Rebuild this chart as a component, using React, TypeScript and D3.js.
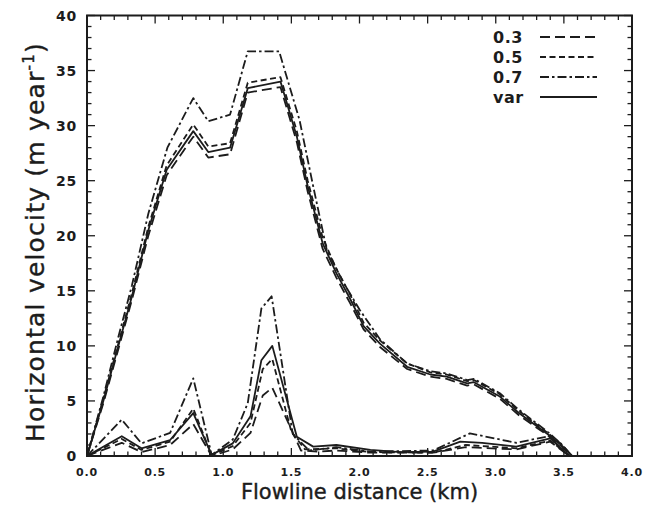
import React from "react";
import * as d3 from "d3";

// ---- data ----
const xDomain = [0, 4];
const yDomain = [0, 40];
const xTickLabels = ["0.0", "0.5", "1.0", "1.5", "2.0", "2.5", "3.0", "3.5", "4.0"];
const yTickLabels = ["0", "5", "10", "15", "20", "25", "30", "35", "40"];
const seriesNames = ["0.3", "0.5", "0.7", "var"];

// upper (surface) curves
const upperDist = [0, 0.12, 0.23, 0.33, 0.45, 0.585, 0.78, 0.89, 1.05, 1.18, 1.42, 1.54, 1.62, 1.73, 1.83, 1.93, 2.03, 2.15, 2.35, 2.52, 2.64, 2.79, 2.84, 3.03, 3.17, 3.39, 3.48, 3.56];
const upper03 = [0, 4.8, 9.7, 14.2, 20, 25.5, 29.0, 27.1, 27.4, 33.0, 33.5, 28.5, 24, 18.8, 16.2, 13.9, 11.5, 9.9, 7.9, 7.2, 7.0, 6.4, 6.5, 5.2, 3.7, 1.8, 0.9, 0];
const upper05 = [0, 5.2, 10.2, 14.8, 20.8, 26.4, 30.1, 28.1, 28.4, 33.9, 34.4, 29.5, 25, 19.8, 17, 14.7, 12.1, 10.5, 8.4, 7.6, 7.4, 6.8, 6.9, 5.6, 4.1, 2.0, 1.1, 0];
const upperVar = [0, 5, 10, 14.5, 20.5, 26, 29.5, 27.6, 28.0, 33.4, 34.0, 29.0, 24.5, 19.3, 16.6, 14.3, 11.8, 10.2, 8.1, 7.4, 7.2, 6.6, 6.7, 5.4, 3.9, 1.9, 1.0, 0];
const upper07Dist = [0, 0.12, 0.23, 0.33, 0.45, 0.59, 0.78, 0.89, 1.05, 1.18, 1.41, 1.56, 1.66, 1.76, 1.88, 2.0, 2.15, 2.35, 2.52, 2.64, 2.79, 2.84, 3.03, 3.17, 3.39, 3.48, 3.56];
const upper07 = [0, 5.4, 10.8, 15.5, 22, 28, 32.5, 30.4, 31.0, 36.75, 36.75, 30.5, 24.5, 18.7, 15.8, 13.3, 10.6, 8.4, 7.7, 7.5, 6.9, 7.0, 5.7, 4.2, 2.1, 1.1, 0];

// lower (basal) curves
const lowerVarDist = [0, 0.255, 0.40, 0.61, 0.78, 0.915, 1.07, 1.2, 1.28, 1.36, 1.54, 1.66, 1.83, 2.08, 2.3, 2.54, 2.74, 2.9, 3.15, 3.4, 3.54];
const lowerVar = [0, 1.8, 0.7, 1.45, 3.9, 0.1, 1.15, 3.6, 8.7, 10.0, 1.75, 0.85, 1.0, 0.55, 0.35, 0.4, 1.3, 1.2, 0.85, 1.6, 0];
const lower07Dist = [0, 0.255, 0.40, 0.61, 0.78, 0.915, 1.07, 1.18, 1.28, 1.355, 1.51, 1.63, 1.83, 2.08, 2.54, 2.81, 3.15, 3.39, 3.54];
const lower07 = [0, 3.3, 1.15, 2.1, 7.05, 0.1, 1.5, 4.8, 13.4, 14.5, 2.0, 0.5, 0.8, 0.4, 0.5, 2.05, 1.2, 1.8, 0];
const lower05Dist = [0, 0.255, 0.40, 0.61, 0.78, 0.915, 1.07, 1.2, 1.29, 1.36, 1.5, 1.6, 1.83, 2.08, 2.54, 2.78, 3.15, 3.4, 3.54];
const lower05 = [0, 1.55, 0.55, 1.3, 4.3, 0.05, 0.9, 3.0, 7.9, 8.8, 2.2, 0.6, 0.7, 0.35, 0.3, 1.0, 0.7, 1.4, 0];
const lower03Dist = [0, 0.255, 0.40, 0.61, 0.78, 0.915, 1.07, 1.2, 1.29, 1.36, 1.57, 1.7, 1.83, 2.08, 2.54, 2.78, 3.15, 3.4, 3.54];
const lower03 = [0, 1.2, 0.35, 1.0, 2.9, 0.0, 0.6, 2.1, 5.5, 6.2, 0.5, 0.4, 0.5, 0.3, 0.3, 0.8, 0.6, 1.3, 0];

const dashes: Record<string, string> = {
  "0.3": "10,5",
  "0.5": "6,3.5",
  "0.7": "9,3,2.5,3",
  var: "none",
};

const INK = "#1c1c1c";

export default function App() {
  const W = 654, H = 509;
  const left = 87, right = 632, top = 15.5, bottom = 456;
  const x = d3.scaleLinear().domain(xDomain).range([left, right]);
  const y = d3.scaleLinear().domain(yDomain).range([bottom, top]);
  const line = d3.line<[number, number]>().x((d) => x(d[0])).y((d) => y(d[1]));
  const zip = (a: number[], b: number[]) => a.map((v, i) => [v, b[i]] as [number, number]);

  const curves = [
    { name: "0.3", pts: zip(upperDist, upper03) },
    { name: "0.5", pts: zip(upperDist, upper05) },
    { name: "0.7", pts: zip(upper07Dist, upper07) },
    { name: "var", pts: zip(upperDist, upperVar) },
    { name: "0.3", pts: zip(lower03Dist, lower03) },
    { name: "0.5", pts: zip(lower05Dist, lower05) },
    { name: "0.7", pts: zip(lower07Dist, lower07) },
    { name: "var", pts: zip(lowerVarDist, lowerVar) },
  ];

  const xMinor = d3.range(0, 41).map((i) => i / 10);
  const yMinor = d3.range(0, 41);

  const fontTick = "'DejaVu Sans', sans-serif";

  return (
    <svg width={W} height={H} style={{ position: "absolute", left: 0, top: 0, background: "#fff" }}>
      {/* ticks */}
      <g stroke={INK} strokeWidth={1.3}>
        {xMinor.map((v, i) => {
          const len = i % 5 === 0 ? 8 : 4.5;
          return (
            <g key={"xt" + i}>
              <line x1={x(v)} x2={x(v)} y1={bottom} y2={bottom - len} />
              <line x1={x(v)} x2={x(v)} y1={top} y2={top + len} />
            </g>
          );
        })}
        {yMinor.map((v, i) => {
          const len = i % 5 === 0 ? 8 : 4.5;
          return (
            <g key={"yt" + i}>
              <line x1={left} x2={left + len} y1={y(v)} y2={y(v)} />
              <line x1={right} x2={right - len} y1={y(v)} y2={y(v)} />
            </g>
          );
        })}
      </g>
      <rect x={left} y={top} width={right - left} height={bottom - top} fill="none" stroke={INK} strokeWidth={2} />

      {/* tick labels */}
      <g fill={INK} fontFamily={fontTick} fontWeight="bold">
        {xTickLabels.map((t) => (
          <text key={t} x={x(+t)} y={476} fontSize={11} textAnchor="middle" letterSpacing={0.8}>
            {t}
          </text>
        ))}
        {yTickLabels.map((t) => (
          <text key={t} x={77} y={y(+t) + 5} fontSize={14} textAnchor="end" letterSpacing={0.8}>
            {t}
          </text>
        ))}
      </g>

      {/* curves */}
      <g fill="none" stroke={INK} strokeWidth={1.8} strokeLinejoin="round">
        {curves.map((c, i) => (
          <path key={i} d={line(c.pts) || ""} strokeDasharray={dashes[c.name]} />
        ))}
      </g>

      {/* legend */}
      <g>
        {seriesNames.map((s, i) => {
          const ly = 37 + i * 20;
          return (
            <g key={s}>
              <text x={493} y={ly + 6} fontFamily={fontTick} fontWeight="bold" fontSize={16} fill={INK} letterSpacing={0.5}>
                {s}
              </text>
              <line x1={540} x2={597} y1={ly} y2={ly} stroke={INK} strokeWidth={1.8} strokeDasharray={dashes[s]} />
            </g>
          );
        })}
      </g>

      {/* axis titles */}
      <text x={(left + right) / 2} y={499} textAnchor="middle" fontFamily="'DejaVu Sans', sans-serif" fontSize={21} fill={INK} stroke={INK} strokeWidth={0.4}>
        Flowline distance (km)
      </text>
      <text transform={`translate(44, 242) rotate(-90)`} textAnchor="middle" fontFamily="'DejaVu Sans', sans-serif" fontSize={25} letterSpacing={1.2} fill={INK} stroke={INK} strokeWidth={0.4}>
        Horizontal velocity (m year
        <tspan fontSize={15} dy={-10}>-1</tspan>
        <tspan dy={10}>)</tspan>
      </text>
    </svg>
  );
}
